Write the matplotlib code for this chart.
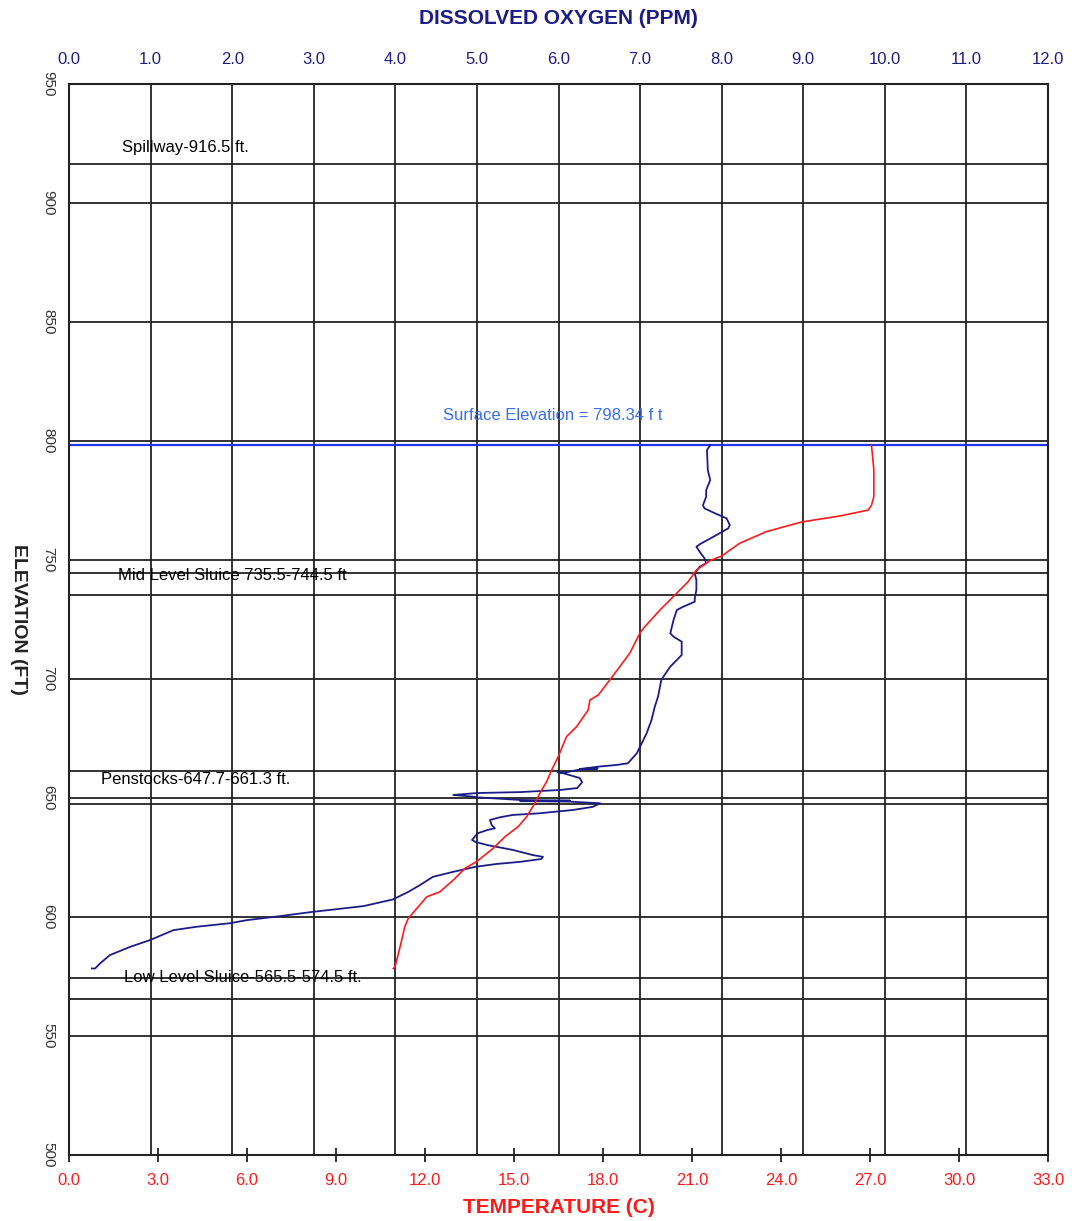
import matplotlib
matplotlib.use("Agg")
import matplotlib.pyplot as plt
import numpy as np

plt.rcParams['font.family'] = ['Liberation Sans', 'DejaVu Sans']

# dissolved oxygen profile (ppm) vs elevation (ft)
do_ppm = [7.86, 7.82, 7.83, 7.86, 7.81, 7.81, 7.77, 7.79, 7.92, 8.06, 8.10, 8.08,
          7.90, 7.75, 7.69, 7.73, 7.79, 7.81, 7.73, 7.67, 7.69, 7.69, 7.67, 7.67,
          7.53, 7.45, 7.41, 7.37, 7.41, 7.51, 7.51, 7.45, 7.37, 7.30, 7.26, 7.22,
          7.18, 7.14, 7.08, 7.02, 6.96, 6.85, 6.71, 6.49, 6.26, 6.48, 6.26, 6.05,
          5.99, 6.05, 6.26, 6.29, 6.23, 6.02, 5.53, 5.00, 4.71, 4.95, 5.00, 5.53,
          6.14, 5.53, 6.14, 6.51, 6.42, 6.18, 5.77, 5.44, 5.28, 5.16, 5.18, 5.22,
          5.13, 5.01, 4.94, 4.98, 5.12, 5.44, 5.69, 5.81, 5.79, 5.53, 5.24, 4.98,
          4.71, 4.46, 4.30, 4.16, 3.97, 3.61, 3.20, 2.99, 2.59, 2.18, 1.97, 1.56,
          1.28, 0.99, 0.75, 0.50, 0.38, 0.32, 0.28]
do_elev = [798.3, 796.2, 787.8, 783.6, 779.4, 776.6, 773.0, 771.7, 769.6, 767.5, 764.7, 763.3,
           759.8, 757.0, 755.6, 753.5, 750.7, 748.6, 747.2, 744.4, 741.6, 737.4, 733.9, 732.5,
           730.4, 729.0, 724.8, 719.2, 717.8, 715.7, 710.1, 708.0, 705.2, 701.7, 699.6, 692.6,
           688.4, 682.8, 677.2, 673.0, 668.8, 664.6, 663.9, 663.2, 662.2, 662.4, 662.0, 660.5,
           660.9, 660.5, 658.4, 656.7, 654.2, 653.4, 652.5, 652.1, 651.3, 650.6, 650.3, 649.2,
           648.9, 648.7, 648.5, 647.8, 646.3, 645.0, 643.6, 642.9, 641.9, 640.8, 638.7, 637.3,
           636.6, 635.2, 632.4, 631.6, 630.3, 628.2, 626.0, 625.3, 624.4, 623.2, 622.3, 621.1,
           619.0, 616.9, 613.4, 610.6, 607.4, 604.6, 603.0, 602.2, 600.4, 598.7, 597.4, 595.9,
           594.5, 590.3, 587.5, 584.0, 580.5, 578.4, 578.4]

# temperature profile (C) vs elevation (ft)
temp_c = [27.05, 27.13, 27.13, 27.05, 26.94, 25.98, 24.70, 23.50, 22.60, 22.00, 21.60,
          21.15, 20.87, 20.48, 19.92, 19.41, 19.24, 18.90, 18.23, 17.84, 17.56, 17.50,
          17.11, 16.77, 16.49, 16.27, 16.10, 15.87, 15.70, 15.43, 15.14, 14.70, 14.30,
          13.74, 13.35, 12.95, 12.50, 12.06, 11.44, 11.32, 11.16, 10.99, 10.93]
temp_elev = [798.3, 787.8, 776.6, 773.0, 771.0, 768.5, 766.0, 761.9, 757.0, 751.7, 749.7,
             745.8, 740.9, 736.0, 729.0, 722.0, 719.2, 710.8, 699.6, 693.3, 691.2, 687.0,
             680.0, 675.8, 667.4, 661.8, 656.9, 652.0, 647.8, 642.2, 638.0, 633.8, 628.9,
             623.3, 620.5, 615.5, 610.6, 608.5, 599.5, 596.0, 587.5, 579.1, 578.4]

# structure levels (ft)
structure_levels = [916.5, 744.5, 735.5, 661.3, 647.7, 574.5, 565.5]
surface_elev = 798.34
labels = ["Spillway-916.5 ft.", "Mid Level Sluice 735.5-744.5 ft",
          "Penstocks-647.7-661.3 ft.", "Low Level Sluice-565.5-574.5 ft."]
label_pos = [(0.65, 923.5), (0.60, 743.3), (0.39, 658.0), (0.67, 574.4)]

do_ticks = np.arange(0, 13, 1)
temp_ticks = np.arange(0, 34, 3)
elev_ticks = np.arange(500, 951, 50)

navy = '#1c1c88'
red = '#ff1a1a'

fig = plt.figure(figsize=(10.72, 12.21), dpi=100)
ax = fig.add_axes([0.0644, 0.054, 0.9132, 0.8772])
ax2 = ax.twiny()

# temperature on the bottom axis
ax2.set_xlim(0, 33)
ax2.xaxis.tick_bottom()
ax2.xaxis.set_label_position('bottom')
ax2.set_xticks(temp_ticks)
ax2.set_xticklabels(['%.1f' % v for v in temp_ticks])
ax2.tick_params(axis='x', direction='inout', length=10, width=1.3, color='#222222',
                pad=8, labelsize=12, labelcolor=red)
ax2.plot(temp_c, temp_elev, color=red, linewidth=1.2)
ax2.set_xlabel('TEMPERATURE (C)', fontsize=15, fontweight='bold', color=red, labelpad=7)
for s in ax2.spines.values():
    s.set_visible(False)

# dissolved oxygen on the top axis
ax.set_xlim(0, 12)
ax.set_ylim(500, 950)
ax.xaxis.tick_top()
ax.xaxis.set_label_position('top')
ax.set_xticks(do_ticks)
ax.set_xticklabels(['%.1f' % v for v in do_ticks])
ax.set_yticks(elev_ticks)
ax.set_yticklabels([str(v) for v in elev_ticks], rotation=270, va='center')
ax.tick_params(axis='x', length=0, pad=12, labelsize=12, labelcolor=navy)
ax.tick_params(axis='y', length=0, pad=10, labelsize=11, labelcolor='#333333')
ax.grid(True, color='#222222', linewidth=1.3)
ax.set_axisbelow(True)
for s in ax.spines.values():
    s.set_linewidth(1.5)
    s.set_color('#222222')

for lev in structure_levels:
    ax.axhline(lev, color='#222222', linewidth=1.3)
ax.axhline(surface_elev, color='#2233ee', linewidth=1.6)

ax.plot(do_ppm, do_elev, color=navy, linewidth=1.3)

for txt, (x, y) in zip(labels, label_pos):
    ax.text(x, y, txt, fontsize=12, color='black', va='center', ha='left')
ax.text(5.93, 810.9, "Surface Elevation = 798.34 f t", fontsize=12,
        color='#3a6cf4', ha='center', va='center')

ax.set_xlabel('DISSOLVED OXYGEN (PPM)', fontsize=15, fontweight='bold', color=navy)
ax.xaxis.set_label_coords(0.5, 1.056)
ax.set_ylabel('ELEVATION (FT)', fontsize=14, fontweight='bold', color='#222222',
              rotation=270, va='center')
ax.yaxis.set_label_coords(-0.052, 0.5)

fig.savefig('out.png', dpi=100)
